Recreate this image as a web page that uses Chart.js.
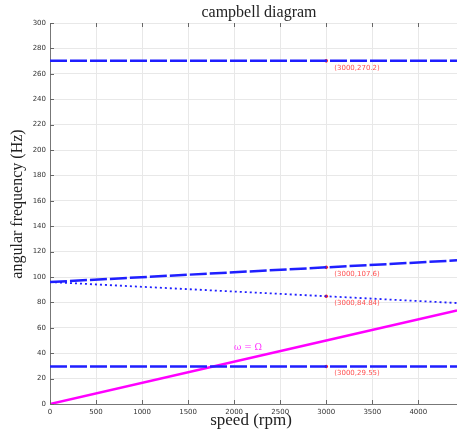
<!DOCTYPE html>
<html><head><meta charset="utf-8">
<script src="https://cdn.jsdelivr.net/npm/chart.js@4.4.0/dist/chart.umd.min.js"></script>
<style>html,body{margin:0;padding:0;background:#fff;}canvas{display:block;}</style>
</head><body>
<canvas id="c" width="457" height="432"></canvas>
<script>
const speeds = [0, 3000, 4420];
const mode1 = [270.2, 270.2, 270.2];
const mode2Fwd = [96, 107.6, 113.1];
const mode2Bwd = [96, 84.84, 79.5];
const mode3 = [29.55, 29.55, 29.55];
const omegaLine = [0, 50, 73.7];
const markerSpeed = 3000;
const markerValues = [270.2, 107.6, 84.84, 29.55];
const markerLabels = ['(3000,270.2)', '(3000,107.6)', '(3000,84.84)', '(3000,29.55)'];
const xTicks = [0, 500, 1000, 1500, 2000, 2500, 3000, 3500, 4000];
const yTicks = [0, 20, 40, 60, 80, 100, 120, 140, 160, 180, 200, 220, 240, 260, 280, 300];
const omegaLabelPos = {x: 2150, y: 44};

const pts = ys => speeds.map((s, i) => ({x: s, y: ys[i]}));
const BLUE = '#1f1fff';

const overlay = {
  id: 'overlay',
  afterDraw(chart) {
    const ctx = chart.ctx, xs = chart.scales.x, ys = chart.scales.y, a = chart.chartArea;
    ctx.save();
    ctx.strokeStyle = '#666'; ctx.lineWidth = 1;
    xTicks.forEach(v => {
      const px = Math.round(xs.getPixelForValue(v)) + 0.5;
      ctx.beginPath(); ctx.moveTo(px, a.bottom); ctx.lineTo(px, a.bottom - 4); ctx.stroke();
      ctx.beginPath(); ctx.moveTo(px, a.top); ctx.lineTo(px, a.top + 4); ctx.stroke();
    });
    yTicks.forEach(v => {
      const py = Math.round(ys.getPixelForValue(v)) + 0.5;
      ctx.beginPath(); ctx.moveTo(a.left, py); ctx.lineTo(a.left + 4, py); ctx.stroke();
    });
    ctx.fillStyle = '#ff5050';
    ctx.font = '7px "DejaVu Sans", sans-serif';
    ctx.textAlign = 'left'; ctx.textBaseline = 'middle';
    markerValues.forEach((v, i) => {
      ctx.fillText(markerLabels[i], xs.getPixelForValue(markerSpeed) + 8, ys.getPixelForValue(v) + 7);
    });
    ctx.fillStyle = '#ff33ff';
    ctx.font = '9px "DejaVu Serif", serif';
    ctx.textAlign = 'center';
    ctx.fillText('\u03C9 = \u03A9', xs.getPixelForValue(omegaLabelPos.x), ys.getPixelForValue(omegaLabelPos.y));
    ctx.fillStyle = '#222';
    ctx.font = '16px "Liberation Serif", serif';
    ctx.textAlign = 'center'; ctx.textBaseline = 'middle';
    ctx.fillText('campbell diagram', 259, 13);
    ctx.font = '17px "Liberation Serif", serif';
    ctx.fillText('speed (rpm)', 251, 421);
    ctx.translate(18, 204); ctx.rotate(-Math.PI / 2);
    ctx.font = '16px "Liberation Serif", serif';
    ctx.fillText('angular frequency (Hz)', 0, 0);
    ctx.restore();
  }
};

new Chart(document.getElementById('c'), {
  type: 'line',
  data: {
    datasets: [
      {data: pts(mode1), borderColor: BLUE, borderWidth: 2.5, borderDash: [17, 3], pointRadius: 0},
      {data: pts(mode2Fwd), borderColor: BLUE, borderWidth: 2.5, borderDash: [17, 3], pointRadius: 0},
      {data: pts(mode2Bwd), borderColor: BLUE, borderWidth: 1.8, borderDash: [2, 3], pointRadius: 0},
      {data: pts(mode3), borderColor: BLUE, borderWidth: 2.5, borderDash: [17, 3], pointRadius: 0},
      {data: pts(omegaLine), borderColor: '#ff00ff', borderWidth: 2.5, pointRadius: 0},
      {data: markerValues.map(v => ({x: markerSpeed, y: v})), showLine: false, pointRadius: 1.8,
       pointBackgroundColor: '#ff2020', pointBorderColor: '#ff2020', borderWidth: 0}
    ]
  },
  options: {
    responsive: false, animation: false,
    layout: {autoPadding: false, padding: {top: 23, right: 0, left: 0, bottom: 0}},
    plugins: {legend: {display: false}, tooltip: {enabled: false}, title: {display: false}},
    elements: {line: {tension: 0}},
    scales: {
      x: {
        type: 'linear', min: 0, max: 4420,
        afterBuildTicks: s => { s.ticks = xTicks.map(v => ({value: v})); },
        afterFit: s => { s.height = 28; s.paddingLeft = 0; s.paddingRight = 0; },
        grid: {color: '#e8e8e8', tickLength: 0, drawTicks: false},
        border: {color: '#777', width: 1},
        ticks: {color: '#333', font: {size: 7, family: '"DejaVu Sans", sans-serif'}, padding: 4, maxRotation: 0, autoSkip: false,
                callback: v => String(v)}
      },
      y: {
        min: 0, max: 300,
        afterBuildTicks: s => { s.ticks = yTicks.map(v => ({value: v})); },
        afterFit: s => { s.width = 50; s.paddingTop = 0; s.paddingBottom = 0; },
        grid: {color: '#e8e8e8', tickLength: 0, drawTicks: false},
        border: {color: '#777', width: 1},
        ticks: {color: '#333', font: {size: 7, family: '"DejaVu Sans", sans-serif'}, padding: 4, autoSkip: false,
                callback: v => String(v)}
      }
    }
  },
  plugins: [overlay]
});
</script>
</body></html>
